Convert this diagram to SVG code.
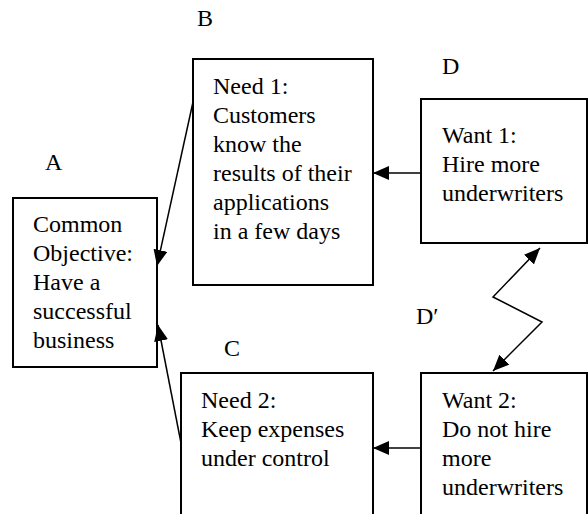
<svg xmlns="http://www.w3.org/2000/svg" width="588" height="514" viewBox="0 0 588 514">
<style>
.box{fill:#fff;stroke:#000;stroke-width:2}
.t{font-family:"Liberation Serif","Times New Roman",serif;font-size:24px;fill:#000}
.c{fill:none;stroke:#000;stroke-width:1.5}
</style>
<defs>
<marker id="ah" markerUnits="userSpaceOnUse" markerWidth="16" markerHeight="14" viewBox="0 0 16 14" refX="16" refY="7" orient="auto-start-reverse">
<path d="M0,0 L16,7 L0,14 z" fill="#000"/>
</marker>
</defs>
<rect width="588" height="514" fill="#fff"/>
<text class="t" x="197" y="26">B</text>
<text class="t" x="45" y="170">A</text>
<text class="t" x="442" y="74">D</text>
<text class="t" x="224" y="356">C</text>
<text class="t" x="416" y="324">D′</text>
<g id="nodeA">
<rect class="box" x="13" y="198" width="144" height="169"/>
<text class="t" x="33" y="232">Common</text>
<text class="t" x="33" y="261">Objective:</text>
<text class="t" x="33" y="290">Have a</text>
<text class="t" x="33" y="319">successful</text>
<text class="t" x="33" y="348">business</text>
</g>
<g id="nodeB">
<rect class="box" x="193" y="59" width="180" height="226"/>
<text class="t" x="213" y="94">Need 1:</text>
<text class="t" x="213" y="123">Customers</text>
<text class="t" x="213" y="152">know the</text>
<text class="t" x="213" y="181">results of their</text>
<text class="t" x="213" y="210">applications</text>
<text class="t" x="213" y="239">in a few days</text>
</g>
<g id="nodeD">
<rect class="box" x="421" y="99" width="166" height="144"/>
<text class="t" x="442" y="143">Want 1:</text>
<text class="t" x="442" y="172">Hire more</text>
<text class="t" x="442" y="201">underwriters</text>
</g>
<g id="nodeC">
<rect class="box" x="181" y="373" width="192" height="160"/>
<text class="t" x="201" y="408">Need 2:</text>
<text class="t" x="201" y="437">Keep expenses</text>
<text class="t" x="201" y="466">under control</text>
</g>
<g id="nodeD2">
<rect class="box" x="421" y="373" width="166" height="160"/>
<text class="t" x="442" y="408">Want 2:</text>
<text class="t" x="442" y="437">Do not hire</text>
<text class="t" x="442" y="466">more</text>
<text class="t" x="442" y="495">underwriters</text>
</g>
<g id="connectors">
<line class="c" x1="193" y1="102" x2="157" y2="266" marker-end="url(#ah)"/>
<line class="c" x1="181" y1="443" x2="158" y2="325" marker-end="url(#ah)"/>
<line class="c" x1="421" y1="173" x2="373" y2="173" marker-end="url(#ah)"/>
<line class="c" x1="421" y1="448" x2="373" y2="448" marker-end="url(#ah)"/>
<polyline class="c" points="493,371 542,322 493,297 540,248" marker-start="url(#ah)" marker-end="url(#ah)"/>
</g>
</svg>
